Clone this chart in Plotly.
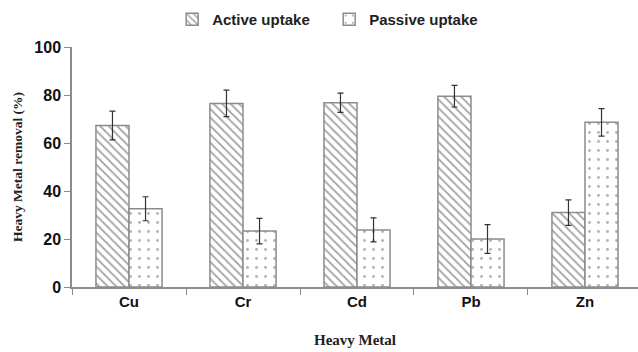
import plotly.graph_objects as go

metals = ["Cu", "Cr", "Cd", "Pb", "Zn"]
active = [67.3, 76.5, 76.8, 79.5, 31.0]
active_err = [6.0, 5.5, 4.0, 4.5, 5.3]
passive = [32.6, 23.3, 23.8, 20.0, 68.6]
passive_err = [5.0, 5.3, 5.0, 6.0, 5.7]
yticks = [0, 20, 40, 60, 80, 100]

edge = "#8c8c8c"
fig = go.Figure()
fig.add_trace(go.Bar(
    x=metals, y=active, name="Active uptake",
    marker=dict(color="white", line=dict(color=edge, width=1.5),
                pattern=dict(shape="\\", fgcolor="#444444", bgcolor="white", size=6, solidity=0.3)),
    error_y=dict(type="data", array=active_err, color="#333333", thickness=1.2, width=3),
))
fig.add_trace(go.Bar(
    x=metals, y=passive, name="Passive uptake",
    marker=dict(color="white", line=dict(color=edge, width=1.5),
                pattern=dict(shape=".", fgcolor="#666666", bgcolor="white", size=9, solidity=0.08)),
    error_y=dict(type="data", array=passive_err, color="#333333", thickness=1.2, width=3),
))

fig.update_layout(
    width=638, height=352,
    margin=dict(l=72, r=0, t=47, b=65),
    paper_bgcolor="white", plot_bgcolor="white",
    barmode="group", bargap=0.42, bargroupgap=0,
    showlegend=True,
    legend=dict(orientation="h", x=0.177, xanchor="left", y=1.115, yanchor="middle",
                font=dict(family="Liberation Sans", size=15, color="#222222", weight="bold"),
                entrywidth=112, entrywidthmode="pixels", itemwidth=30),
    xaxis=dict(type="category", range=[-0.5, 4.465], tickson="boundaries",
               ticks="outside", ticklen=6, tickcolor=edge,
               showline=True, linecolor=edge, linewidth=1.5, showgrid=False,
               tickfont=dict(family="Liberation Sans", size=15, color="#111111", weight="bold"),
               title=dict(text="Heavy Metal", standoff=26,
                          font=dict(family="Liberation Serif", size=15, color="#222222", weight="bold"))),
    yaxis=dict(range=[0, 100], tickvals=yticks, ticks="outside", ticklen=6, tickcolor=edge,
               showline=True, linecolor=edge, linewidth=1.5, showgrid=False, zeroline=False,
               tickfont=dict(family="Liberation Sans", size=16, color="#111111", weight="bold"),
               title=dict(text="Heavy Metal removal (%)", standoff=9,
                          font=dict(family="Liberation Serif", size=13.5, color="#222222", weight="bold"))),
)
fig.write_html("out.html")
